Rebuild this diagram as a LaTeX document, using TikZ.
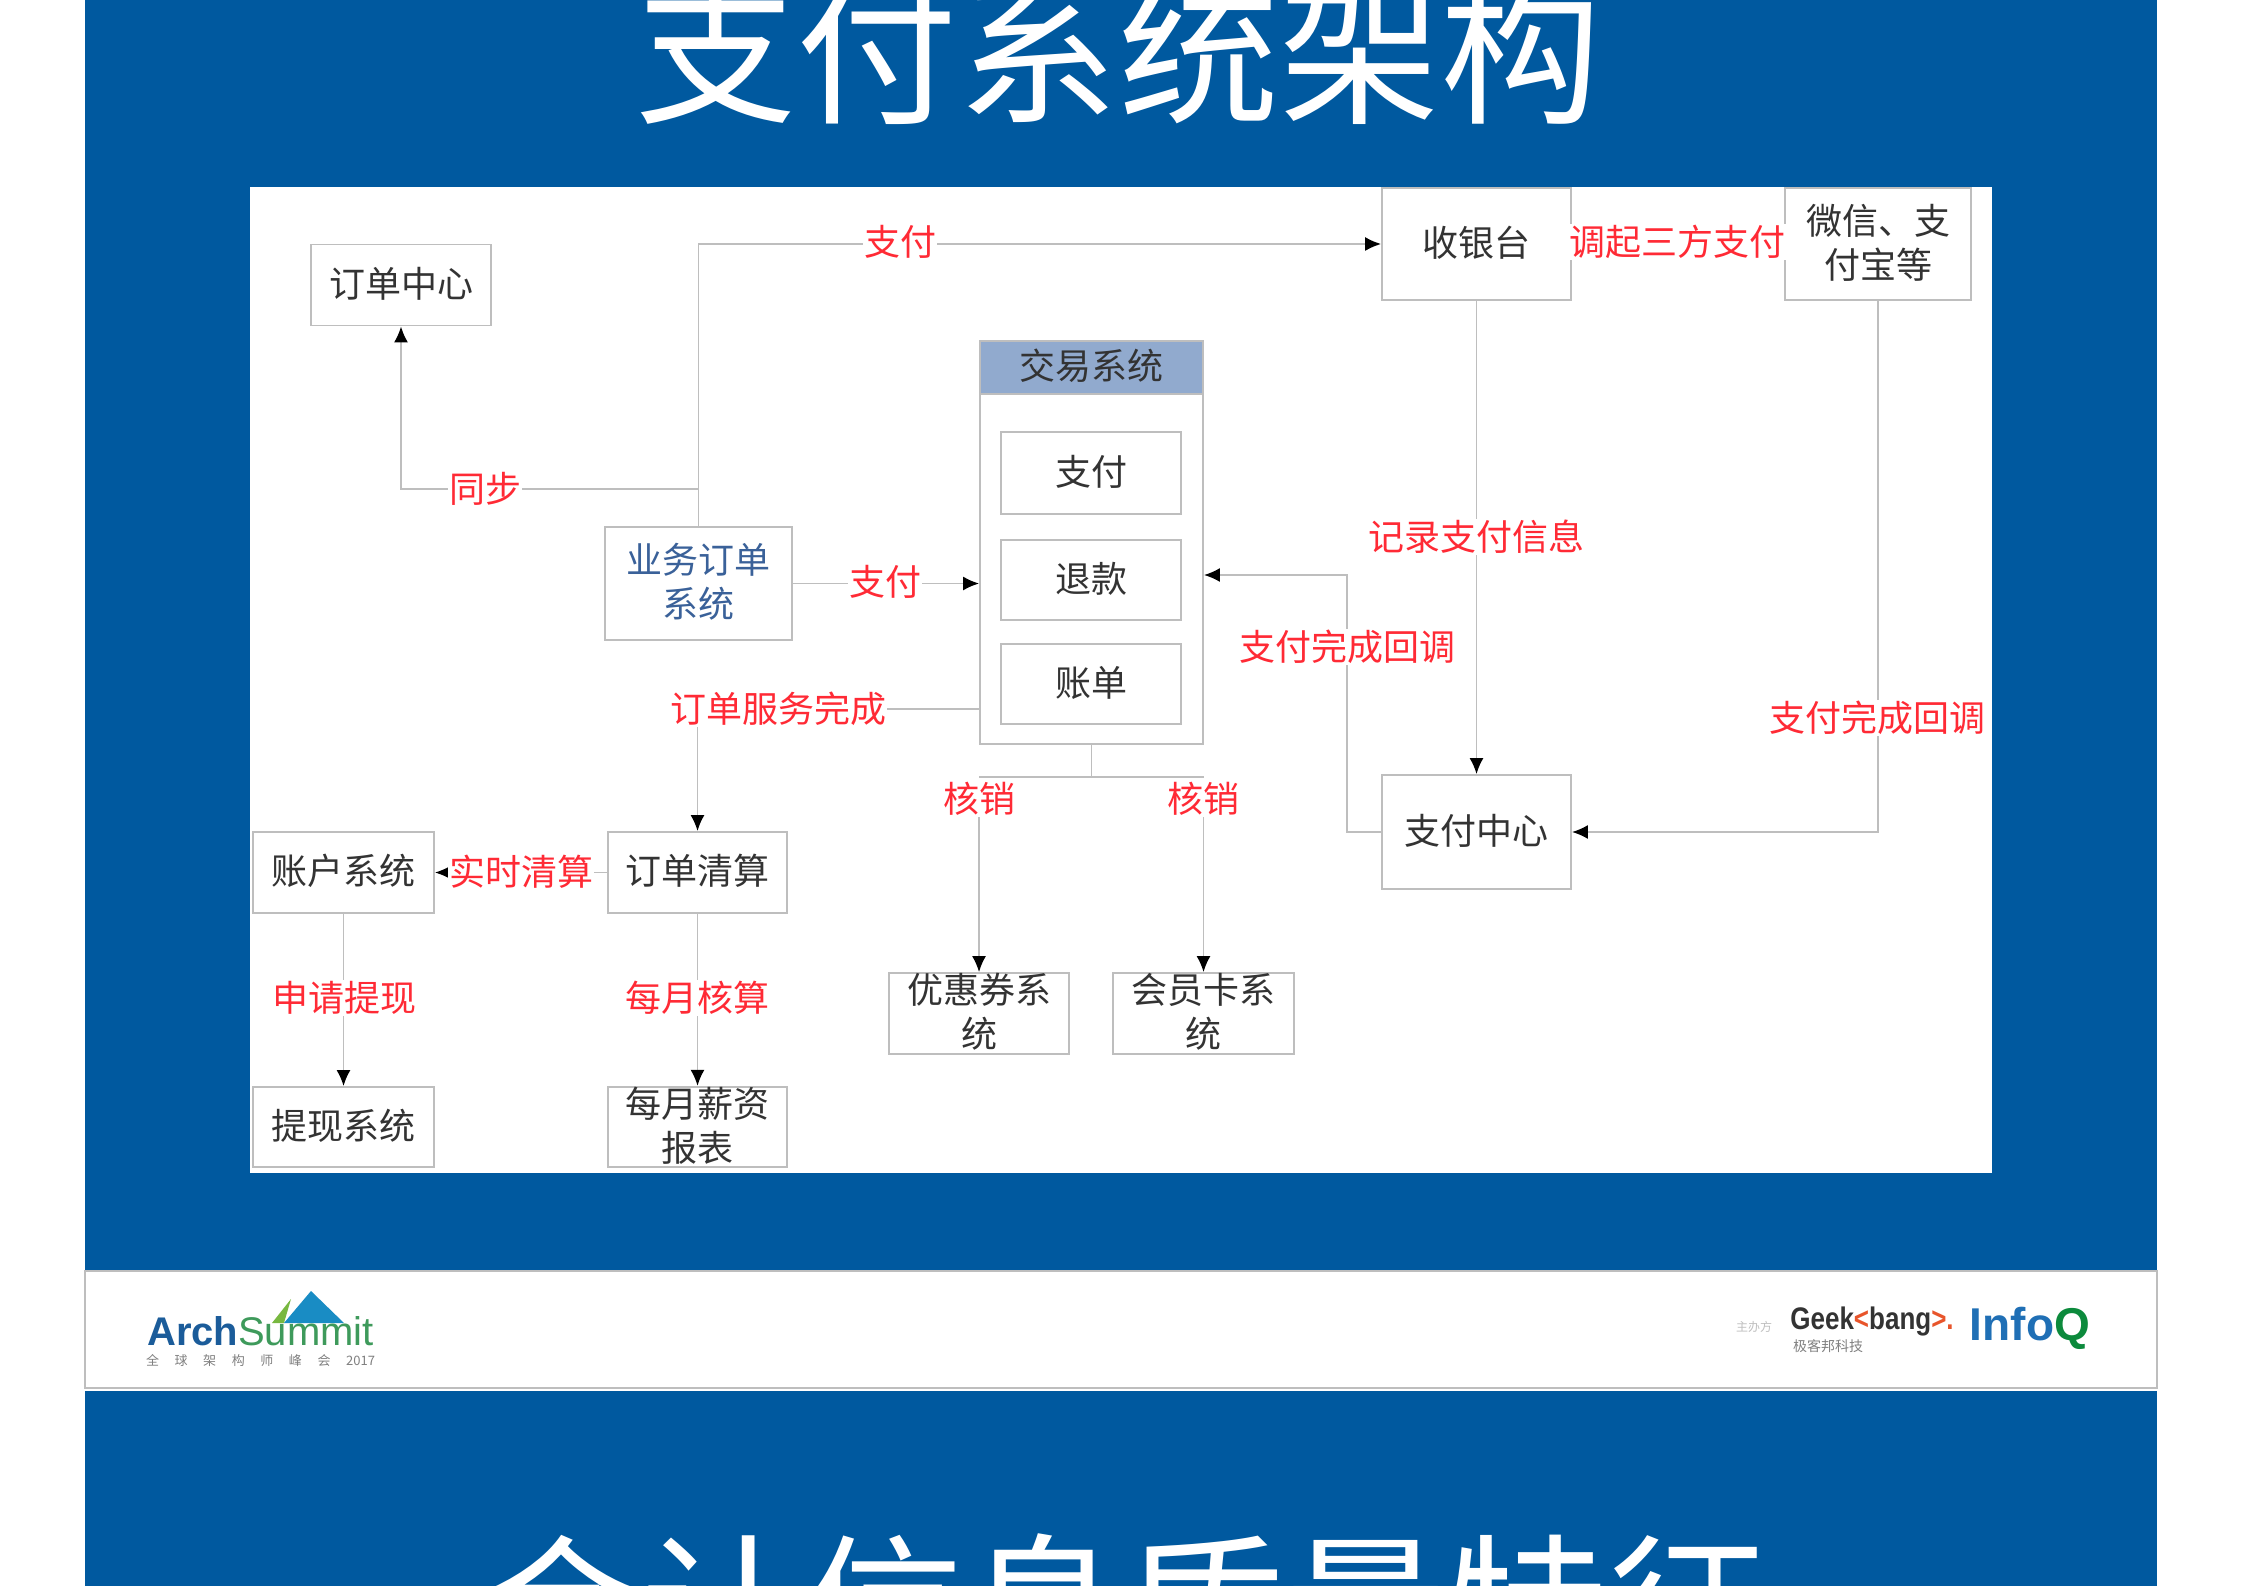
\documentclass[tikz,border=0pt]{standalone}
\usepackage{fontspec}
\setmainfont{Noto Sans CJK SC}
\newfontfamily\latinfont{Liberation Sans}
\usepackage{tikz}
\usetikzlibrary{arrows.meta,backgrounds}

\definecolor{slideblue}{HTML}{00599F}
\definecolor{headblue}{HTML}{91AACE}
\definecolor{tagred}{HTML}{FF2A35}
\definecolor{wiregray}{HTML}{BEBEBE}
\definecolor{inkgray}{HTML}{333333}
\definecolor{bizblue}{HTML}{3A6199}
\definecolor{archblue}{HTML}{1B5C9A}
\definecolor{archgreen}{HTML}{3E9A5B}
\definecolor{infoblue}{HTML}{1F6FB5}
\definecolor{infogreen}{HTML}{0C8A3C}
\definecolor{geekorange}{HTML}{E8552B}

\tikzset{
  box/.style={draw=wiregray, line width=1.8pt, text=inkgray, align=center, inner sep=0pt,
    text depth=6pt, font=\fontsize{36}{44}\selectfont},
  redtag/.style={fill=white, text=tagred, inner sep=1pt, font=\fontsize{36}{44}\selectfont},
  wire/.style={draw=wiregray, line width=1.8pt},
  arrowed/.style={-{Latex[length=16pt,width=14pt,black]}},
  bigtitle/.style={text=white, font=\fontsize{161}{172}\selectfont}
}

\begin{document}
\begin{tikzpicture}[x=1pt,y=-1pt]
\path[use as bounding box, clip] (0,0) rectangle (2245,1586);

\node[bigtitle] (title) at (1118,50) {支付系统架构};
\node[bigtitle] (subtitle) at (1124,1609) {会计信息质量特征};

\node[box, minimum width=180pt, minimum height=81pt] (ordercenter) at (401,285) {订单中心};
\node[box, minimum width=187pt, minimum height=113pt, text=bizblue] (bizorder) at (698.5,583.5) {业务订单\\系统};
\node[box, minimum width=223pt, minimum height=403pt] (trade) at (1091.5,542.5) {};
\node[box, minimum width=223pt, minimum height=53pt, fill=headblue] (tradehead) at (1091.5,367.5) {交易系统};
\node[box, minimum width=180pt, minimum height=82pt] (paybox) at (1091,473) {支付};
\node[box, minimum width=180pt, minimum height=80pt] (refund) at (1091,580) {退款};
\node[box, minimum width=180pt, minimum height=80pt] (bill) at (1091,684) {账单};
\node[box, minimum width=189pt, minimum height=112pt] (cashier) at (1476.5,244) {收银台};
\node[box, minimum width=186pt, minimum height=112pt] (wechat) at (1878,244) {微信、支\\付宝等};
\node[box, minimum width=189pt, minimum height=114pt] (paycenter) at (1476.5,832) {支付中心};
\node[box, minimum width=181pt, minimum height=81pt] (account) at (343.5,872.5) {账户系统};
\node[box, minimum width=179pt, minimum height=81pt] (settle) at (697.5,872.5) {订单清算};
\node[box, minimum width=181pt, minimum height=80pt] (withdraw) at (343.5,1127) {提现系统};
\node[box, minimum width=179pt, minimum height=80pt] (salary) at (697.5,1127) {每月薪资\\报表};
\node[box, minimum width=180pt, minimum height=81pt] (coupon) at (979,1013.5) {优惠券系\\统};
\node[box, minimum width=181pt, minimum height=81pt] (member) at (1203.5,1013.5) {会员卡系\\统};

\node[redtag] (paytag) at (900,242) {支付};
\node[redtag] (synctag) at (485,489) {同步};
\node[redtag] (bizpaytag) at (885,582) {支付};
\node[redtag] (donetag) at (778,709) {订单服务完成};
\node[redtag] (calltag) at (1677,242) {调起三方支付};
\node[redtag] (recordtag) at (1476,537) {记录支付信息};
\node[redtag] (backtag) at (1347,647) {支付完成回调};
\node[redtag] (wxbacktag) at (1877,718) {支付完成回调};
\node[redtag] (checktag) at (979,799) {核销};
\node[redtag] (memtag) at (1203,799) {核销};
\node[redtag] (realtag) at (521,872) {实时清算};
\node[redtag] (applytag) at (344,998) {申请提现};
\node[redtag] (monthtag) at (697,998) {每月核算};

\coordinate (hub) at (1091.5,777);
\coordinate (bend) at (1347,575);

\begin{scope}[on background layer]
\fill[slideblue] (85,0) rectangle (2157,1270);
\fill[slideblue] (85,1391) rectangle (2157,1586);
\fill[white] (250,187) rectangle (1992,1173);
\path[draw=wiregray, fill=white, line width=1.5pt] (85,1271) rectangle (2157,1388);

\path[wire,arrowed] (bizorder.north) |- (cashier.west);
\path[wire,arrowed] (bizorder.north |- synctag.east) -| (ordercenter.south);
\path[wire,arrowed] (bizorder.east) -- (bizorder.east -| trade.west);
\path[wire] (donetag.east) -- (donetag.east -| trade.west);
\path[wire,arrowed] (settle.north |- donetag.south) -- (settle.north);
\path[wire,arrowed] (settle.west) -- (account.east);
\path[wire,arrowed] (account.south) -- (withdraw.north);
\path[wire,arrowed] (settle.south) -- (salary.north);
\path[wire] (trade.south) -- (hub);
\path[wire] (coupon.north |- hub) -- (member.north |- hub);
\path[wire,arrowed] (coupon.north |- checktag.south) -- (coupon.north);
\path[wire,arrowed] (member.north |- memtag.south) -- (member.north);
\path[wire,arrowed] (cashier.south) -- (paycenter.north);
\path[wire,arrowed] (wechat.south) |- (paycenter.east);
\path[wire,arrowed] (paycenter.west) -| (bend) -- (bend -| trade.east);
\end{scope}

\fill[archgreen!70!yellow] (272,1323) -- (291,1299) -- (284,1323) -- cycle;
\fill[infoblue!80!cyan] (311,1291) -- (344,1323) -- (284,1323) -- cycle;
\node[inner sep=0pt] (archlogo) at (260.5,1331) {\latinfont\fontsize{40}{40}\selectfont\textcolor{archblue}{\bfseries Arch}\textcolor{archgreen}{Summit}};
\node[inner sep=0pt, text=gray] (archline) at (260.5,1360) {\fontsize{13}{13}\selectfont\makebox[229pt][s]{全\hfill 球\hfill 架\hfill 构\hfill 师\hfill 峰\hfill 会\hfill 2017}};
\node[inner sep=0pt, text=gray!50] (hostlogo) at (1754,1327) {\fontsize{12}{12}\selectfont 主办方};
\node[inner sep=0pt, text=inkgray] (geeklogo) at (1872,1321) {\latinfont\bfseries\fontsize{26}{26}\selectfont\scalebox{1}[1.2]{Geek\textcolor{geekorange}{<}bang\textcolor{geekorange}{>.}}};
\node[inner sep=0pt, text=gray] (geekline) at (1828,1346) {\fontsize{14}{14}\selectfont 极客邦科技};
\node[inner sep=0pt] (infologo) at (2030,1328) {\latinfont\bfseries\fontsize{46}{46}\selectfont\textcolor{infoblue}{Info}\textcolor{infogreen}{Q}};
\end{tikzpicture}
\end{document}
